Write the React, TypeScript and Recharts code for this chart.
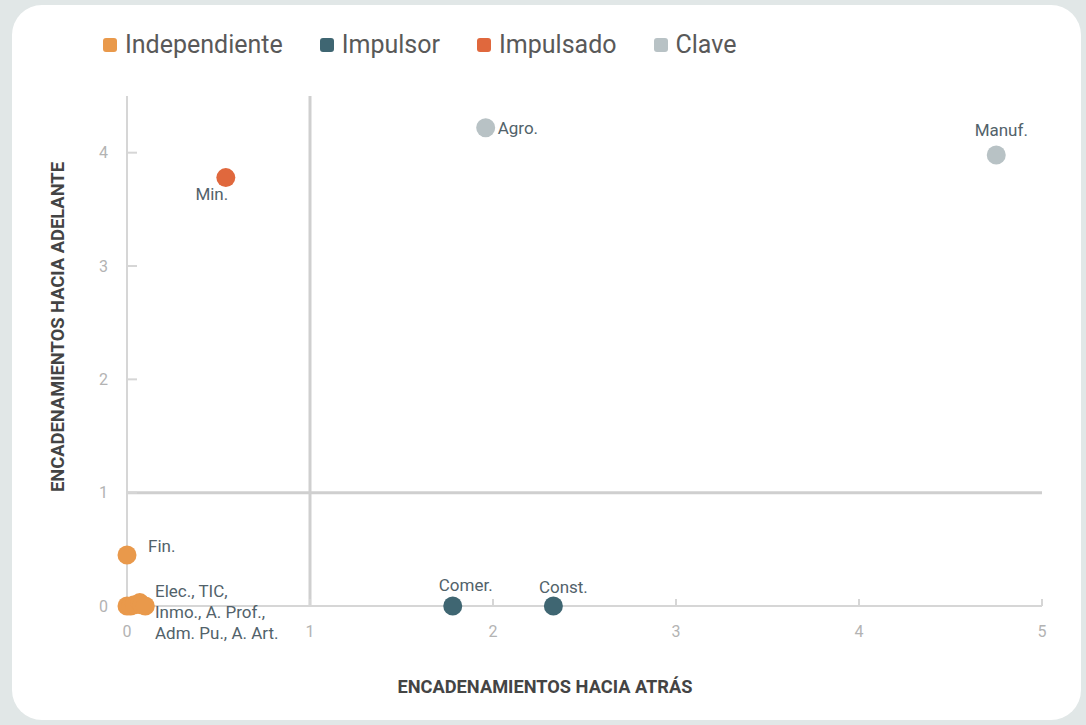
import React from 'react';
import {
  ScatterChart,
  Scatter,
  XAxis,
  YAxis,
  ReferenceLine,
  Legend,
  Label,
} from 'recharts';

// sector points: x = backward linkages, y = forward linkages
const independiente = [
  { name: 'Fin.', x: 0, y: 0.45 },
  { name: 'Elec.', x: 0, y: 0 },
  { name: 'TIC', x: 0.02, y: 0 },
  { name: 'Inmo.', x: 0.04, y: 0.01 },
  { name: 'A. Prof.', x: 0.07, y: 0.03 },
  { name: 'Adm. Pu.', x: 0.08, y: 0.01 },
  { name: 'A. Art.', x: 0.1, y: 0 },
];
const impulsor = [
  { name: 'Comer.', x: 1.78, y: 0 },
  { name: 'Const.', x: 2.33, y: 0 },
];
const impulsado = [{ name: 'Min.', x: 0.54, y: 3.78 }];
const clave = [
  { name: 'Agro.', x: 1.96, y: 4.22 },
  { name: 'Manuf.', x: 4.75, y: 3.98 },
];

const seriesNames = ['Independiente', 'Impulsor', 'Impulsado', 'Clave'];
const clusterLabel = ['Elec., TIC,', 'Inmo., A. Prof.,', 'Adm. Pu., A. Art.'];

const xTicks = [0, 1, 2, 3, 4, 5];
const yTicks = [0, 1, 2, 3, 4];

const COLORS: Record<string, string> = {
  Independiente: '#e9994b',
  Impulsor: '#3f6672',
  Impulsado: '#e0683d',
  Clave: '#b8c2c5',
};

const LABEL_COLOR = '#52626a';
const TICK_COLOR = '#b3b3b3';
const AXIS_COLOR = '#d6d6d6';
const TITLE_COLOR = '#444';

// where each point label sits relative to its dot
const labelSpot: Record<string, { dx: number; dy: number; anchor: string }> = {
  'Fin.': { dx: 21, dy: -9, anchor: 'start' },
  'Min.': { dx: -14, dy: 16, anchor: 'middle' },
  'Agro.': { dx: 12, dy: 0, anchor: 'start' },
  'Manuf.': { dx: 5, dy: -25, anchor: 'middle' },
  'Comer.': { dx: 13, dy: -21, anchor: 'middle' },
  'Const.': { dx: 10, dy: -19, anchor: 'middle' },
};

const Dot = (color: string) => (props: any) => {
  const { cx, cy, payload } = props;
  const spot = labelSpot[payload.name];
  return (
    <g>
      <circle cx={cx} cy={cy} r={9.5} fill={color} />
      {spot && (
        <text
          x={cx + spot.dx}
          y={cy + spot.dy}
          textAnchor={spot.anchor as any}
          dominantBaseline="central"
          fontSize={17}
          fill={LABEL_COLOR}
        >
          {payload.name}
        </text>
      )}
      {payload.name === 'Elec.' &&
        clusterLabel.map((line, i) => (
          <text
            key={line}
            x={cx + 28}
            y={cy - 15 + i * 21}
            dominantBaseline="central"
            fontSize={17}
            fill={LABEL_COLOR}
          >
            {line}
          </text>
        ))}
    </g>
  );
};

const YTick = (props: any) => {
  const { x, y, payload } = props;
  return (
    <g>
      {payload.value !== 0 && (
        <line x1={x + 19} x2={x + 29} y1={y} y2={y} stroke={AXIS_COLOR} strokeWidth={2} />
      )}
      <text x={x} y={y} textAnchor="end" dominantBaseline="central" fontSize={16} fill={TICK_COLOR}>
        {payload.value}
      </text>
    </g>
  );
};

const XTick = (props: any) => {
  const { x, y, payload } = props;
  return (
    <g>
      {payload.value !== 0 && (
        <line x1={x} x2={x} y1={y - 20} y2={y - 27} stroke={AXIS_COLOR} strokeWidth={2} />
      )}
      <text x={x} y={y} dy="0.71em" textAnchor="middle" fontSize={16} fill={TICK_COLOR}>
        {payload.value}
      </text>
    </g>
  );
};

const LegendContent = () => (
  <div style={{ display: 'flex', alignItems: 'center' }}>
    {seriesNames.map((name) => (
      <div key={name} style={{ display: 'flex', alignItems: 'center', marginRight: 37 }}>
        <span
          style={{
            width: 14,
            height: 14,
            borderRadius: 3,
            background: COLORS[name],
            marginRight: 8,
            display: 'inline-block',
          }}
        />
        <span style={{ fontSize: 25, color: '#595959' }}>{name}</span>
      </div>
    ))}
  </div>
);

export default function App() {
  return (
    <div
      style={{
        position: 'absolute',
        left: 0,
        top: 0,
        width: 1086,
        height: 725,
        background: '#e1e7e7',
        fontFamily: 'Roboto, sans-serif',
        overflow: 'hidden',
      }}
    >
      <div
        style={{
          position: 'absolute',
          left: 12,
          top: 5,
          width: 1069,
          height: 715,
          background: '#ffffff',
          borderRadius: 30,
        }}
      />
      <div style={{ position: 'absolute', left: 0, top: 0 }}>
        <ScatterChart width={1086} height={725} margin={{ top: 96, right: 44, bottom: 0, left: 0 }}>
          <XAxis
            type="number"
            dataKey="x"
            domain={[0, 5]}
            ticks={xTicks}
            height={119}
            tickSize={0}
            tickMargin={20}
            tick={<XTick />}
            axisLine={{ stroke: AXIS_COLOR, strokeWidth: 2 }}
          >
            <Label
              content={() => (
                <text
                  x={545}
                  y={686}
                  textAnchor="middle"
                  dominantBaseline="central"
                  fontSize={19}
                  fontWeight={700}
                  fill={TITLE_COLOR}
                  textLength={295}
                  lengthAdjust="spacingAndGlyphs"
                >
                  ENCADENAMIENTOS HACIA ATRÁS
                </text>
              )}
            />
          </XAxis>
          <YAxis
            type="number"
            dataKey="y"
            domain={[0, 4.5]}
            ticks={yTicks}
            width={127}
            tickSize={0}
            tickMargin={19}
            tick={<YTick />}
            axisLine={{ stroke: AXIS_COLOR, strokeWidth: 2 }}
          >
            <Label
              content={() => (
                <text
                  x={57}
                  y={327}
                  textAnchor="middle"
                  dominantBaseline="central"
                  fontSize={19}
                  fontWeight={700}
                  fill={TITLE_COLOR}
                  textLength={330}
                  lengthAdjust="spacingAndGlyphs"
                  transform="rotate(-90 57 327)"
                >
                  ENCADENAMIENTOS HACIA ADELANTE
                </text>
              )}
            />
          </YAxis>
          <ReferenceLine x={1} stroke="#cfcfcf" strokeWidth={3} />
          <ReferenceLine y={1} stroke="#cfcfcf" strokeWidth={3} />
          <Legend
            layout="horizontal"
            verticalAlign="middle"
            align="center"
            wrapperStyle={{ top: 30, left: 103, width: 'auto' }}
            content={<LegendContent />}
          />
          <Scatter
            name="Independiente"
            data={independiente}
            fill={COLORS.Independiente}
            shape={Dot(COLORS.Independiente)}
            isAnimationActive={false}
          />
          <Scatter
            name="Impulsor"
            data={impulsor}
            fill={COLORS.Impulsor}
            shape={Dot(COLORS.Impulsor)}
            isAnimationActive={false}
          />
          <Scatter
            name="Impulsado"
            data={impulsado}
            fill={COLORS.Impulsado}
            shape={Dot(COLORS.Impulsado)}
            isAnimationActive={false}
          />
          <Scatter
            name="Clave"
            data={clave}
            fill={COLORS.Clave}
            shape={Dot(COLORS.Clave)}
            isAnimationActive={false}
          />
        </ScatterChart>
      </div>
    </div>
  );
}
